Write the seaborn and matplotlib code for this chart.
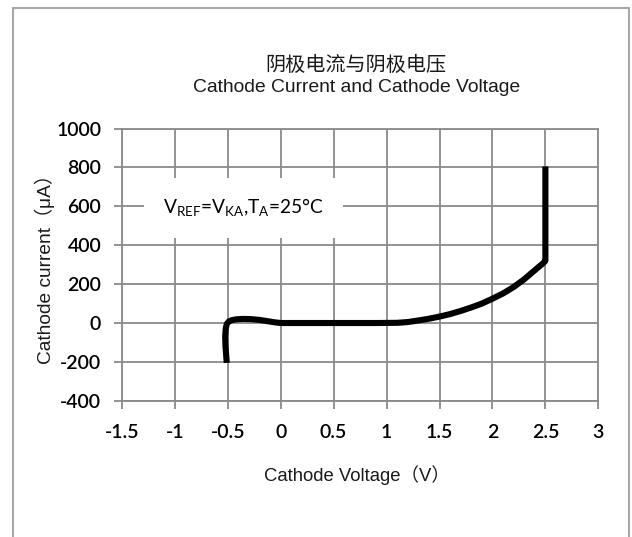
"""Cathode current vs. cathode voltage curve (V_REF = V_KA, T_A = 25 C)."""

import matplotlib

matplotlib.use("Agg")
import matplotlib.pyplot as plt
import pandas as pd
import seaborn as sns
from matplotlib.patches import Rectangle

# curve
VOLTAGE = [-0.51, -0.515, -0.522, -0.525, -0.52, -0.51, -0.49, -0.46, -0.42,
           -0.36, -0.28, -0.2, -0.12, -0.05, 0.0, 0.3, 0.6, 0.9, 1.1, 1.2,
           1.3, 1.4, 1.5, 1.6, 1.7, 1.8, 1.9, 2.0, 2.1, 2.2, 2.3, 2.38,
           2.44, 2.48, 2.5, 2.5, 2.5]
CURRENT = [-205, -170, -120, -70, -30, -5, 8, 15, 19, 21, 20, 16, 9, 3, 0,
           0, 0, 0, 1, 5, 13, 22, 33, 46, 62, 80, 100, 125, 152, 185, 225,
           262, 290, 308, 320, 500, 805]

X_TICKS = [-1.5, -1, -0.5, 0, 0.5, 1, 1.5, 2, 2.5, 3]
X_TICK_LABELS = ["-1.5", "-1", "-0.5", "0", "0.5", "1", "1.5", "2", "2.5", "3"]
Y_TICKS = [-400, -200, 0, 200, 400, 600, 800, 1000]

TITLE_CN = "阴极电流与阴极电压"
TITLE_EN = "Cathode Current and Cathode Voltage"
X_LABEL = "Cathode Voltage（V）"
Y_LABEL = "Cathode current（μA）"
NOTE = r"V$_{\mathregular{REF}}$=V$_{\mathregular{KA}}$,T$_{\mathregular{A}}$=25°C"

GRID = "#8a8a8a"
SANS = ["Liberation Sans", "Noto Sans CJK SC", "DejaVu Sans"]
NUM = ["Lato", "DejaVu Sans"]


def main() -> None:
    sns.set_theme(style="white")
    plt.rcParams["mathtext.fontset"] = "custom"
    plt.rcParams["mathtext.rm"] = "Lato"
    plt.rcParams["axes.unicode_minus"] = False
    plt.rcParams["font.family"] = NUM

    df = pd.DataFrame({"voltage": VOLTAGE, "current": CURRENT})

    fig = plt.figure(figsize=(6.32, 5.37), dpi=100)
    ax = fig.add_axes([0.1930, 0.2536, 0.7537, 0.5071])

    # outer frame of the picture
    fig.add_artist(Rectangle((13 / 632, -0.1), 616 / 632, 1.1 - 8 / 537,
                             transform=fig.transFigure, fill=False,
                             edgecolor="#a8a8a8", linewidth=1.5))

    sns.lineplot(data=df, x="voltage", y="current", sort=False,
                 estimator=None, color="black", linewidth=4.4, ax=ax,
                 solid_capstyle="butt", solid_joinstyle="round", zorder=5)

    ax.set_xlim(-1.5, 3)
    ax.set_ylim(-400, 1000)
    ax.set_xticks(X_TICKS)
    ax.set_xticklabels(X_TICK_LABELS)
    ax.set_yticks(Y_TICKS)
    ax.grid(True, color=GRID, linewidth=1.3)
    ax.set_axisbelow(True)
    for spine in ax.spines.values():
        spine.set_color(GRID)
        spine.set_linewidth(1.3)
    ax.tick_params(axis="both", direction="out", length=6, width=1.3,
                   color=GRID, labelsize=14, labelcolor="#000000")
    ax.tick_params(axis="y", pad=9)
    ax.tick_params(axis="x", pad=11)
    ax.tick_params(left=True, bottom=True)
    for label in ax.get_xticklabels() + ax.get_yticklabels():
        label.set_fontweight("semibold")

    ax.set_xlabel(X_LABEL, family=SANS, fontsize=13.3, color="#1a1a1a",
                  va="top")
    ax.xaxis.set_label_coords(0.493, -0.236)
    ax.set_ylabel(Y_LABEL, family=SANS, fontsize=13.8, color="#1a1a1a")
    ax.yaxis.set_label_coords(-0.141, 0.5)

    ax.text(-1.11, 591, NOTE, fontsize=13.8, va="center", ha="left",
            color="#000000", zorder=6,
            bbox=dict(boxstyle="square,pad=1.0", facecolor="white",
                      edgecolor="none"))

    fig.text(0.5635, 1 - 65 / 537, TITLE_CN, family=SANS, fontsize=14.5,
             ha="center", va="center", color="#1a1a1a")
    fig.text(0.5635, 1 - 88 / 537, TITLE_EN, family=SANS, fontsize=13.9,
             ha="center", va="center", color="#1a1a1a")

    fig.savefig("out.png", dpi=100)
    plt.close(fig)


if __name__ == "__main__":
    main()
